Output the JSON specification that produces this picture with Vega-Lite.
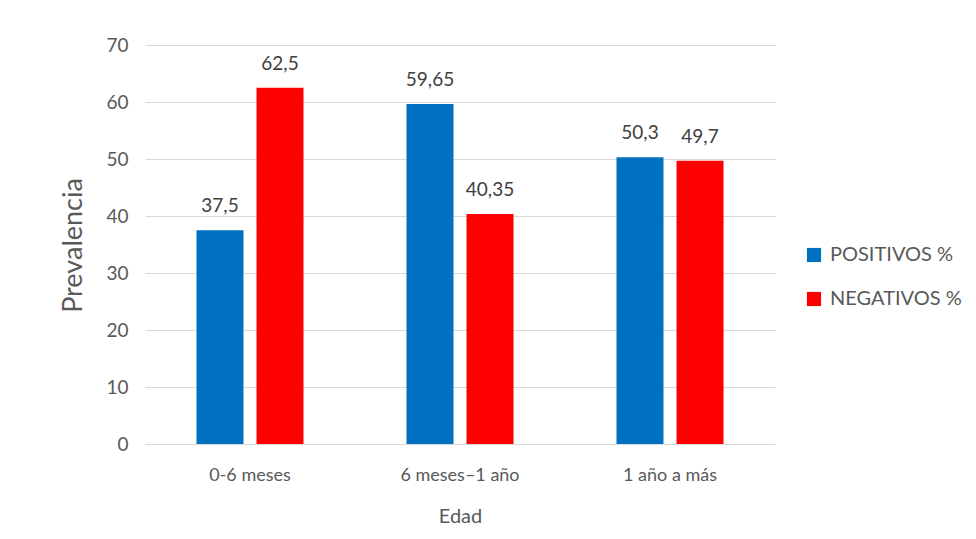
{
  "$schema": "https://vega.github.io/schema/vega-lite/v6.json",
  "width": 630,
  "height": 399,
  "autosize": {"type": "none"},
  "padding": {"left": 145, "top": 45, "right": 201, "bottom": 95},
  "background": "white",
  "data": {
    "values": [
      {"edad": "0-6 meses", "serie": "POSITIVOS %", "valor": 37.5, "etiqueta": "37,5"},
      {"edad": "0-6 meses", "serie": "NEGATIVOS %", "valor": 62.5, "etiqueta": "62,5"},
      {"edad": "6 meses–1 año", "serie": "POSITIVOS %", "valor": 59.65, "etiqueta": "59,65"},
      {"edad": "6 meses–1 año", "serie": "NEGATIVOS %", "valor": 40.35, "etiqueta": "40,35"},
      {"edad": "1 año a más", "serie": "POSITIVOS %", "valor": 50.3, "etiqueta": "50,3"},
      {"edad": "1 año a más", "serie": "NEGATIVOS %", "valor": 49.7, "etiqueta": "49,7"}
    ]
  },
  "encoding": {
    "x": {
      "field": "edad", "type": "nominal", "sort": ["0-6 meses", "6 meses–1 año", "1 año a más"],
      "scale": {"paddingInner": 0, "paddingOuter": 0},
      "axis": {"title": "Edad", "labelAngle": 0, "ticks": false, "domain": false, "labelPadding": 22, "titlePadding": 22, "labelFontSize": 18, "titleFontSize": 20}
    },
    "xOffset": {
      "field": "serie", "type": "nominal", "sort": ["POSITIVOS %", "NEGATIVOS %"],
      "scale": {"paddingInner": 0.217, "paddingOuter": 0.858}
    },
    "y": {
      "field": "valor", "type": "quantitative",
      "scale": {"domain": [0, 70]},
      "axis": {"title": "Prevalencia", "values": [0,10,20,30,40,50,60,70], "labelOverlap": false, "ticks": false, "domain": false, "labelPadding": 17, "labelFontSize": 19, "titleFontSize": 27, "titleX": -72, "titleY": 200, "titleAlign": "center", "titleBaseline": "middle"}
    }
  },
  "layer": [
    {
      "mark": {"type": "bar"},
      "encoding": {
        "color": {
          "field": "serie", "type": "nominal", "sort": ["POSITIVOS %", "NEGATIVOS %"],
          "scale": {"domain": ["POSITIVOS %", "NEGATIVOS %"], "range": ["#0070c0", "#ff0000"]},
          "legend": {"title": null, "orient": "none", "legendX": 659, "legendY": 200, "symbolType": "square", "symbolSize": 200, "symbolStrokeWidth": 0, "labelFontSize": 20, "rowPadding": 24, "labelOffset": 6}
        }
      }
    },
    {
      "mark": {"type": "text", "baseline": "bottom", "dy": -14, "fontSize": 19, "color": "#404040", "font": "Lato"},
      "encoding": {"text": {"field": "etiqueta"}}
    }
  ],
  "config": {
    "font": "Lato",
    "view": {"stroke": null},
    "axis": {"labelColor": "#595959", "titleColor": "#595959", "gridColor": "#d9d9d9", "titleFontWeight": "normal", "labelFont": "Lato", "titleFont": "Lato"},
    "axisX": {"grid": false},
    "legend": {"labelColor": "#595959", "labelFont": "Lato"}
  }
}
